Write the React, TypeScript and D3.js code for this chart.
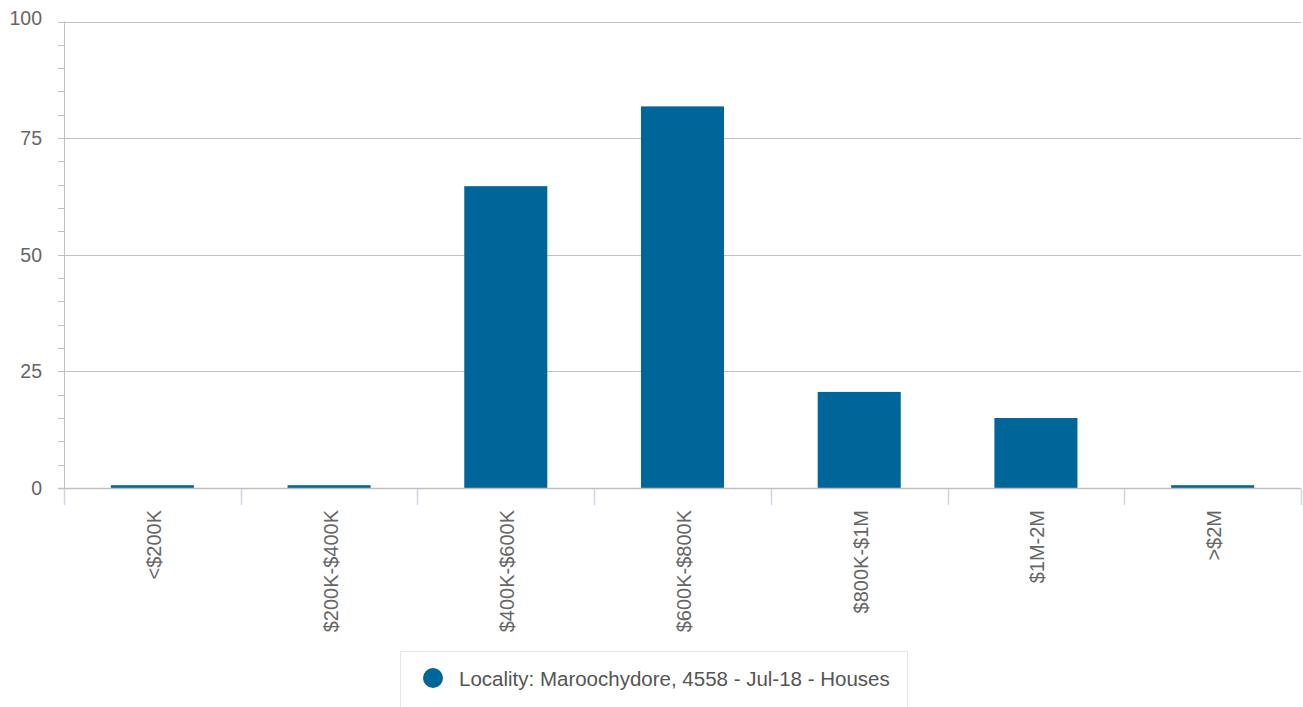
import React from "react";
import * as d3 from "d3";

const categories = ["<$200K", "$200K-$400K", "$400K-$600K", "$600K-$800K", "$800K-$1M", "$1M-2M", ">$2M"];
const values = [0.6, 0.6, 64.7, 81.8, 20.6, 15, 0.6];
const yTicks = [0, 25, 50, 75, 100];
const legendLabel = "Locality: Maroochydore, 4558 - Jul-18 - Houses";

const W = 1303, H = 707;
const left = 64, right = 1301, top = 21.5, bottom = 488;
const font = "'Liberation Sans', Arial, Helvetica, sans-serif";

export default function App() {
  const x = d3.scaleBand().domain(categories).range([left, right]).paddingInner(0).paddingOuter(0);
  const y = d3.scaleLinear().domain([0, 100]).range([bottom, top]);
  const minor = d3.range(0, 101, 5);
  const bw = x.bandwidth() * 0.47;
  const bounds = [...categories.map((c) => x(c)!), right];
  return (
    <div style={{ position: "absolute", left: 0, top: 0 }}>
      <svg width={W} height={H} style={{ display: "block", fontFamily: font }}>
        <rect width={W} height={H} fill="#fff" />
        {yTicks.filter((t) => t > 0).map((t) => (
          <line key={t} x1={left - 6} x2={right} y1={Math.round(y(t)) + 0.5} y2={Math.round(y(t)) + 0.5} stroke="#c0c0c0" strokeWidth={1} />
        ))}
        {minor.filter((t) => !yTicks.includes(t)).map((t) => (
          <line key={t} x1={left - 6} x2={left} y1={Math.round(y(t)) + 0.5} y2={Math.round(y(t)) + 0.5} stroke="#c0c0c0" strokeWidth={1} />
        ))}
        <line x1={left + 0.5} x2={left + 0.5} y1={top} y2={bottom} stroke="#c0c0c0" strokeWidth={1} />
        {yTicks.map((t) => (
          <text key={t} x={42} y={y(t) + 7 - (t === 100 ? 4 : 0)} textAnchor="end" fontSize={19.5} fill="#666">{t}</text>
        ))}
        {categories.map((c, i) => {
          const cx = x(c)! + x.bandwidth() / 2;
          return (
            <rect key={c} x={cx - bw / 2} y={y(values[i])} width={bw} height={bottom - y(values[i])} fill="#006699" />
          );
        })}
        <line x1={left - 6} x2={right} y1={bottom + 0.5} y2={bottom + 0.5} stroke="#c0c0c0" strokeWidth={1.5} />
        {bounds.map((b, i) => (
          <line key={i} x1={Math.round(b) + 0.5} x2={Math.round(b) + 0.5} y1={bottom + 1} y2={bottom + 17} stroke="#ccd6eb" strokeWidth={1.5} />
        ))}
        {categories.map((c) => {
          const cx = x(c)! + x.bandwidth() / 2;
          return (
            <text key={c} transform={`translate(${cx + 8.5},${bottom + 22}) rotate(-90)`} textAnchor="end" fontSize={20} fill="#666">{c}</text>
          );
        })}
        <rect x={400.5} y={651.5} width={507} height={70} fill="#fff" stroke="#e6e6e6" strokeWidth={1} />
        <circle cx={433} cy={678} r={10} fill="#006699" />
        <text x={459} y={685.5} fontSize={20.5} fill="#555">{legendLabel}</text>
      </svg>
    </div>
  );
}
